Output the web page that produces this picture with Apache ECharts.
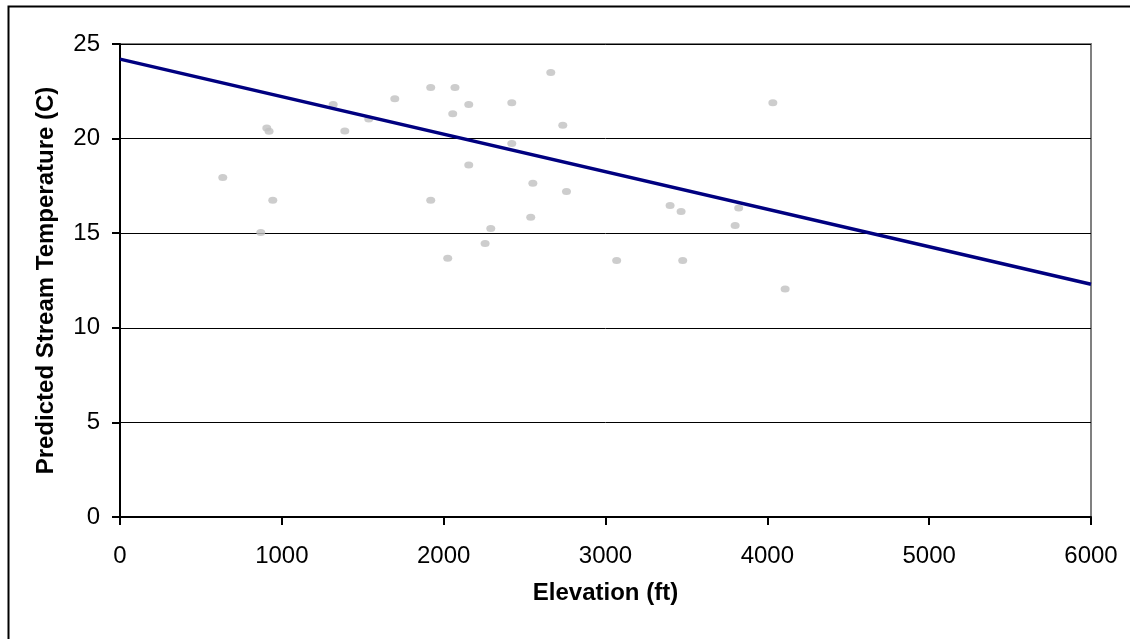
<!DOCTYPE html>
<html><head><meta charset="utf-8">
<script src="https://cdn.jsdelivr.net/npm/echarts@6/dist/echarts.min.js"></script>
<style>html,body{margin:0;padding:0;background:#fff}#c{width:1130px;height:639px}</style>
</head><body><div id="c"></div>
<script>
const elevation = [635, 907, 921, 944, 870, 1317, 1389, 1537, 1698, 1920, 2070, 2155, 2056, 2155, 1920, 2291, 2256, 2025,
  2662, 2421, 4034, 2736, 2421, 2551, 2759, 2538, 3399, 3467, 3823, 3801, 3069, 3477, 4110];
const temperature = [17.95, 20.56, 20.39, 16.74, 15.04, 21.8, 20.4, 21.04, 22.1, 22.7, 22.7, 21.8, 21.32, 18.6, 16.74, 15.25, 14.46, 13.67,
  23.5, 21.89, 21.89, 20.7, 19.74, 17.64, 17.21, 15.84, 16.47, 16.15, 16.33, 15.41, 13.56, 13.56, 12.05];
const lineElevation = [0, 6000];
const lineTemperature = [24.2, 12.3];
const xTicks = [0, 1000, 2000, 3000, 4000, 5000, 6000];
const yTicks = [0, 5, 10, 15, 20, 25];

const chart = echarts.init(document.getElementById('c'), null, {renderer: 'canvas'});
const font = 'Liberation Sans, Arial, sans-serif';
chart.setOption({
  animation: false,
  backgroundColor: '#fff',
  graphic: [{
    type: 'rect', shape: {x: 8.5, y: 6.5, width: 1200, height: 1200},
    style: {fill: 'none', stroke: '#000', lineWidth: 2}, z: 100
  }],
  grid: {left: 120, top: 44, right: 39, bottom: 122, show: true, borderColor: '#808080', borderWidth: 2, backgroundColor: 'transparent'},
  xAxis: {
    type: 'value', min: 0, max: 6000, interval: 1000,
    name: 'Elevation (ft)', nameLocation: 'middle', nameGap: 64,
    nameTextStyle: {fontFamily: font, fontSize: 24, fontWeight: 'bold', color: '#000'},
    axisLine: {show: true, onZero: false, lineStyle: {color: '#000', width: 2}},
    axisTick: {show: true, inside: false, length: 8, lineStyle: {color: '#000', width: 2}},
    axisLabel: {fontFamily: font, fontSize: 24, color: '#000', margin: 27,
      formatter: v => xTicks.includes(v) ? String(v) : ''},
    splitLine: {show: false}
  },
  yAxis: {
    type: 'value', min: 0, max: 25, interval: 5,
    name: 'Predicted Stream Temperature (C)', nameLocation: 'middle', nameGap: 62, nameRotate: 90,
    nameTextStyle: {fontFamily: font, fontSize: 24, fontWeight: 'bold', color: '#000'},
    axisLine: {show: true, onZero: false, lineStyle: {color: '#000', width: 2}},
    axisTick: {show: true, inside: false, length: 8, lineStyle: {color: '#000', width: 2}},
    axisLabel: {fontFamily: font, fontSize: 24, color: '#000', margin: 20,
      formatter: v => yTicks.includes(v) ? String(v) : ''},
    splitLine: {show: true, lineStyle: {color: '#000', width: 1}}
  },
  series: [
    {
      type: 'scatter', symbol: 'circle', symbolSize: [9, 7],
      itemStyle: {color: '#c0c0c0'},
      data: elevation.map((e, i) => [e, temperature[i]]), z: 2
    },
    {
      type: 'line', symbol: 'none',
      lineStyle: {color: '#000080', width: 3.5},
      data: lineElevation.map((e, i) => [e, lineTemperature[i]]), z: 3
    }
  ]
});
</script></body></html>
